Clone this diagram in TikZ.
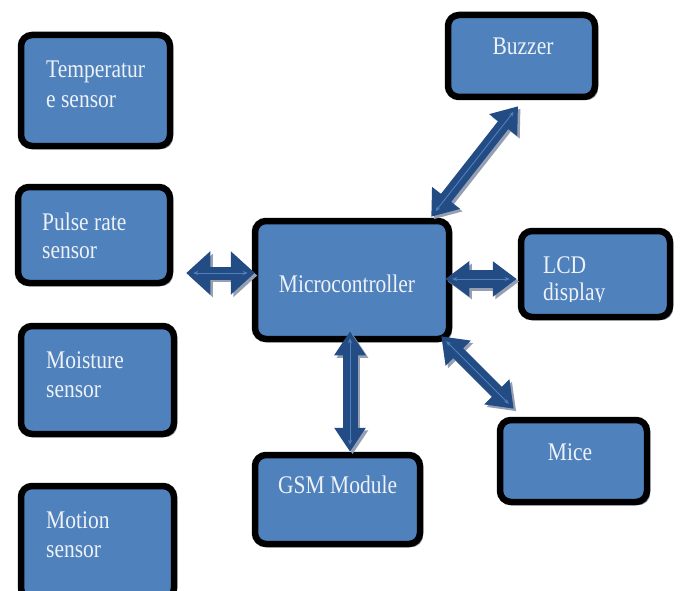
\documentclass[tikz,border=0pt]{standalone}
\usepackage{fontspec}
\setmainfont{Liberation Serif}
\usetikzlibrary{arrows.meta,shadows}
\definecolor{boxblue}{RGB}{79,129,189}
\definecolor{arrblue}{RGB}{36,76,132}
\definecolor{arrinner}{RGB}{80,128,188}
\definecolor{shadowc}{RGB}{150,160,178}
\definecolor{txtc}{RGB}{238,242,246}
\newcommand{\stx}[1]{\scalebox{1}[1.18]{#1}}
\newcommand{\biarrow}[4]{%
  \draw[draw=shadowc, line width=#3, {Triangle[length=24pt,width=#4]}-{Triangle[length=24pt,width=#4]}, transform canvas={shift={(2.5pt,-2.5pt)}}] #1 -- #2;
  \draw[draw=arrblue, fill=arrblue, line width=#3, {Triangle[length=24pt,width=#4]}-{Triangle[length=24pt,width=#4]}] #1 -- #2;
  \draw[draw=arrinner, line width=0.9pt, {Stealth[length=5pt,width=4pt]}-{Stealth[length=5pt,width=4pt]}, shorten <=7pt, shorten >=7pt] #1 -- #2;
}
\tikzset{
  blk/.style={draw=black, line width=6.5pt, fill=boxblue, rounded corners=11pt,
    drop shadow={shadow xshift=3pt, shadow yshift=-3pt, fill=shadowc, opacity=1}},
  txt/.style={text=txtc, inner sep=0pt, font=\fontsize{21.5}{29}\selectfont}
}
\begin{document}
\begin{tikzpicture}[x=1pt,y=-1pt]
\useasboundingbox (0,0) rectangle (682,591);
% boxes
\node[blk, minimum width=149pt, minimum height=111pt] (temp) at (95.5,90.5) {};
\node[blk, minimum width=152pt, minimum height=96pt] (pulse) at (94,235) {};
\node[blk, minimum width=153pt, minimum height=108pt] (moist) at (97.5,380) {};
\node[blk, minimum width=153pt, minimum height=113pt] (motion) at (97.5,542.5) {};
\node[blk, minimum width=194pt, minimum height=118pt] (micro) at (352,280) {};
\node[blk, minimum width=147pt, minimum height=82pt] (buzzer) at (521.5,56) {};
\node[blk, minimum width=149pt, minimum height=86pt] (lcd) at (595.5,274) {};
\node[blk, minimum width=147pt, minimum height=82pt] (mice) at (573.5,461) {};
\node[blk, minimum width=165pt, minimum height=89pt] (gsm) at (337.5,499.5) {};
% texts
\node[txt, anchor=base west] (t1a) at (46,78) {\stx{Temperatur}};
\node[txt, anchor=base west] (t1b) at (46,107) {\stx{e sensor}};
\node[txt, anchor=base west] (t2a) at (42,230) {\stx{Pulse rate}};
\node[txt, anchor=base west] (t2b) at (42,258) {\stx{sensor}};
\node[txt, anchor=base west] (t3a) at (46,368) {\stx{Moisture}};
\node[txt, anchor=base west] (t3b) at (46,397) {\stx{sensor}};
\node[txt, anchor=base west] (t4a) at (46,528) {\stx{Motion}};
\node[txt, anchor=base west] (t4b) at (46,557) {\stx{sensor}};
\node[txt, anchor=base] (tmic) at (347,292) {\stx{Microcontroller}};
\node[txt, anchor=base] (tbuz) at (523,55) {\stx{Buzzer}};
\node[txt, anchor=base west] (tlcda) at (543,273) {\stx{LCD}};
\begin{scope}
\clip (530,280) rectangle (670,301);
\node[txt, anchor=base west] (tlcdb) at (543,300) {\stx{display}};
\end{scope}
\node[txt, anchor=base] (tmice) at (570,460) {\stx{Mice}};
\node[txt, anchor=base west] (tgsm) at (278,493) {\stx{GSM Module}};
% arrows
\biarrow{([shift={(13,38)}]pulse.east)}{([shift={(3,-7)}]micro.west)}{13pt}{42pt}
\biarrow{([shift={(-7,-1)}]micro.east)}{([shift={(-1,5)}]lcd.west)}{18pt}{34pt}
\biarrow{([shift={(-21,-1)}]micro.north east)}{([shift={(-3.5,6)}]buzzer.south)}{13pt}{34pt}
\biarrow{([shift={(-2,-11)}]micro.south)}{([shift={(12.5,0)}]gsm.north)}{15pt}{30pt}
\biarrow{([shift={(-11,-6)}]micro.south east)}{([shift={(17,-8)}]mice.north west)}{14pt}{34pt}
\end{tikzpicture}
\end{document}
